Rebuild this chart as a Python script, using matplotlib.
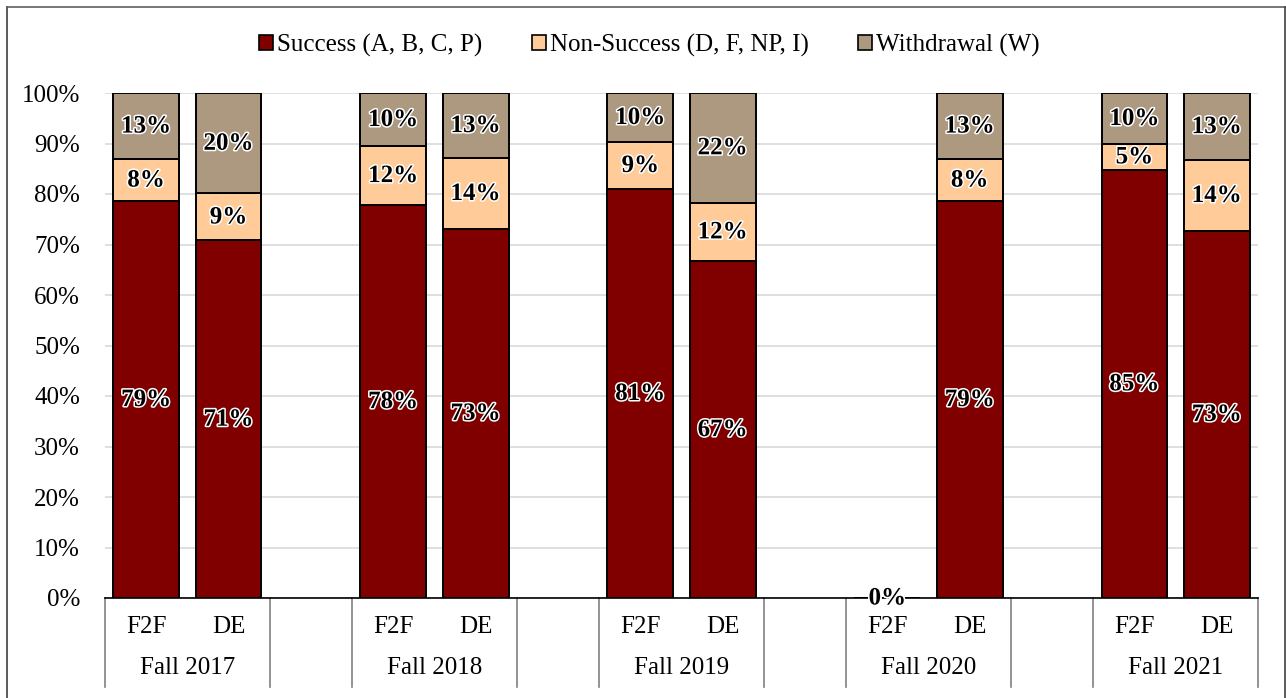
import matplotlib
matplotlib.use("Agg")
import matplotlib.pyplot as plt
import matplotlib.patheffects as pe
from matplotlib.patches import Patch
import numpy as np

plt.rcParams['font.family'] = ['Liberation Serif', 'DejaVu Serif']

terms = ["Fall 2017", "Fall 2018", "Fall 2019", "Fall 2020", "Fall 2021"]
modes = ["F2F", "DE"]
series_names = ["Success (A, B, C, P)", "Non-Success (D, F, NP, I)", "Withdrawal (W)"]
colors = ["#800000", "#FFCC99", "#AD9880"]

# order: F2F, DE per term
success     = [78.6, 70.8, 77.8, 73.1, 81.0, 66.7, 0.0, 78.6, 84.8, 72.7]
non_success = [8.3, 9.3, 11.7, 14.0, 9.3, 11.6, 0.0, 8.3, 5.1, 14.0]
withdrawal  = [13.1, 19.9, 10.5, 12.9, 9.7, 21.7, 0.0, 13.1, 10.1, 13.3]

W, H = 1286, 698
fig = plt.figure(figsize=(W / 100, H / 100), dpi=100)
left, right, top, bottom = 105, 1258, 93, 598
ax = fig.add_axes([left / W, 1 - bottom / H, (right - left) / W, (bottom - top) / H])

# slot positions: 2 bars per term, then a blank slot
n_slots = len(terms) * 3 - 1
xpos = []
for g in range(len(terms)):
    for m in range(len(modes)):
        xpos.append(g * 3 + m + 0.5)
xpos = np.array(xpos)

data = [np.array(success), np.array(non_success), np.array(withdrawal)]
bottoms = np.zeros(len(xpos))
for vals, col, name in zip(data, colors, series_names):
    ax.bar(xpos, vals, 0.8, bottom=bottoms, color=col, edgecolor="black",
           linewidth=1.4, label=name, zorder=3)
    for x, b, v in zip(xpos, bottoms, vals):
        ax.text(x, b + v / 2, f"{v:.0f}%", ha="center", va="center",
                fontsize=18, fontweight="bold", color="black", zorder=5,
                path_effects=[pe.withStroke(linewidth=2.2, foreground="white")])
    bottoms = bottoms + vals

ax.set_xlim(0, n_slots)
ax.set_ylim(0, 100)
ax.set_yticks(np.arange(0, 101, 10))
ax.set_yticklabels([f"{v}%" for v in range(0, 101, 10)], fontsize=18)
ax.tick_params(axis="y", length=0, pad=18)
ax.set_xticks([])
ax.grid(axis="y", color="#D9D9D9", linewidth=1.2, zorder=0)
for s in ["top", "right", "left"]:
    ax.spines[s].set_visible(False)
ax.spines["bottom"].set_color("black")
ax.spines["bottom"].set_linewidth(1.2)
ax.spines["bottom"].set_zorder(4)

# category labels
trans = ax.get_xaxis_transform()
for i, x in enumerate(xpos):
    ax.text(x, -0.058, modes[i % 2], transform=trans, ha="center", va="center", fontsize=18)
for g, t in enumerate(terms):
    ax.text(g * 3 + 1, -0.138, t, transform=trans, ha="center", va="center", fontsize=18)
# separators
sep = sorted(set([g * 3 for g in range(len(terms))] + [g * 3 + 2 for g in range(len(terms))]))
for s in sep:
    ax.plot([s, s], [0, -0.176], transform=trans, color="#808080", linewidth=1.2, clip_on=False)

handles = [Patch(facecolor=c, edgecolor="black", linewidth=1.2) for c in colors]
fig.legend(handles, series_names, loc="center", bbox_to_anchor=(0.505, 1 - 45 / H), ncol=3,
           frameon=False, fontsize=18, handlelength=0.55, handleheight=0.55,
           handletextpad=0.15, columnspacing=2.0)

# outer border
fig.add_artist(plt.Line2D([7 / W, 7 / W], [0, 1 - 6.5 / H], transform=fig.transFigure, color="#404040", linewidth=1.2))
fig.add_artist(plt.Line2D([7 / W, 1 - 1.5 / W], [1 - 6.5 / H, 1 - 6.5 / H], transform=fig.transFigure, color="#606060", linewidth=1.2))
fig.add_artist(plt.Line2D([1 - 1.5 / W, 1 - 1.5 / W], [0, 1 - 6.5 / H], transform=fig.transFigure, color="#404040", linewidth=1.2))

fig.savefig("out.png", dpi=100)
